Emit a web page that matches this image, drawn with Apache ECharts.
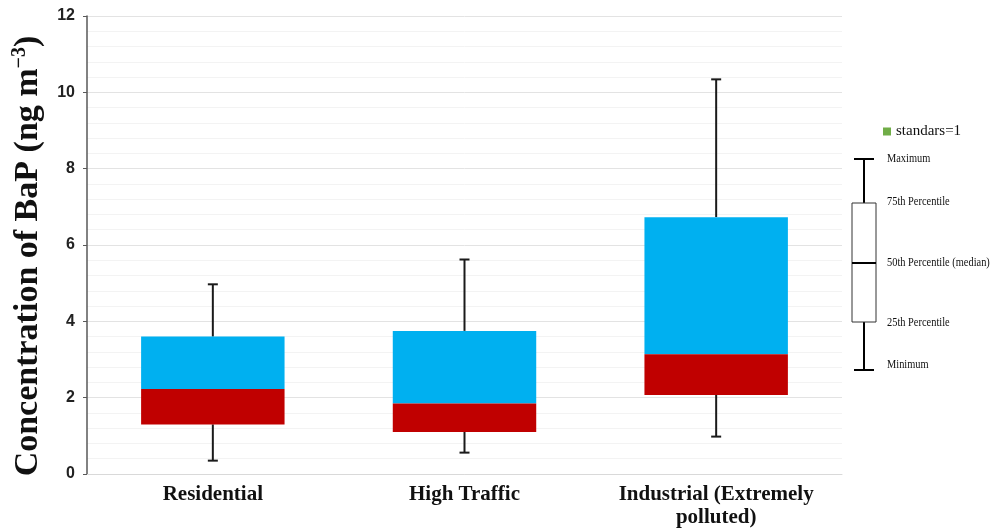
<!DOCTYPE html>
<html>
<head>
<meta charset="utf-8">
<title>Concentration of BaP</title>
<script src="https://cdn.jsdelivr.net/npm/echarts@6/dist/echarts.min.js"></script>
<style>
  html, body { margin: 0; padding: 0; background: #ffffff; }
  #chart { width: 1003px; height: 530px; }
</style>
</head>
<body>
<div id="chart"></div>
<script>
// Site categories
const categories = ['Residential', 'High Traffic', 'Industrial (Extremely\npolluted)'];
// Five-number summaries of BaP concentration (ng m-3) per site
const minimum = [0.35, 0.56, 0.98];
const q1      = [1.30, 1.10, 2.07];
const median  = [2.23, 1.85, 3.14];
const q3      = [3.60, 3.75, 6.73];
const maximum = [4.97, 5.62, 10.34];
// Y axis ticks
const yMin = 0, yMax = 12, yStep = 2;
// Legend entry and key labels
const legendName = 'standars=1';
const keyLabels = ['Maximum', '75th Percentile', '50th Percentile (median)', '25th Percentile', 'Minimum'];

const boxData = categories.map((c, i) => [i, minimum[i], q1[i], median[i], q3[i], maximum[i]]);

const LOWER = '#c00000';
const UPPER = '#00b0f0';
const WHISKER = '#1a1a1a';

function renderBox(params, api) {
  const idx = api.value(0);
  const vMin = api.value(1), vQ1 = api.value(2), vMed = api.value(3), vQ3 = api.value(4), vMax = api.value(5);
  const band = api.size([1, 0])[0];
  const w = band * 0.57;
  const cap = 10;
  const pMin = api.coord([idx, vMin]);
  const pQ1 = api.coord([idx, vQ1]);
  const pMed = api.coord([idx, vMed]);
  const pQ3 = api.coord([idx, vQ3]);
  const pMax = api.coord([idx, vMax]);
  const x = pMed[0];
  const line = (x1, y1, x2, y2) => ({
    type: 'line',
    shape: { x1, y1, x2, y2 },
    style: { stroke: WHISKER, lineWidth: 2 }
  });
  return {
    type: 'group',
    children: [
      line(x, pQ3[1], x, pMax[1]),
      line(x - cap / 2, pMax[1], x + cap / 2, pMax[1]),
      line(x, pQ1[1], x, pMin[1]),
      line(x - cap / 2, pMin[1], x + cap / 2, pMin[1]),
      {
        type: 'rect',
        shape: { x: x - w / 2, y: pQ3[1], width: w, height: pMed[1] - pQ3[1] },
        style: { fill: UPPER }
      },
      {
        type: 'rect',
        shape: { x: x - w / 2, y: pMed[1], width: w, height: pQ1[1] - pMed[1] },
        style: { fill: LOWER }
      }
    ]
  };
}

// Key: a schematic box with its labels, drawn at the right of the plot
const keyX = 864, keyTop = 159, keyQ3 = 203, keyMed = 263, keyQ1 = 322, keyBottom = 370;
const keyW = 24, keyCap = 20, keyTextX = 887;
const keyTextY = [159, 202, 263, 323, 365];
const keyGraphics = [
  { type: 'line', shape: { x1: keyX, y1: keyTop, x2: keyX, y2: keyQ3 }, style: { stroke: '#000', lineWidth: 2 } },
  { type: 'line', shape: { x1: keyX - keyCap / 2, y1: keyTop, x2: keyX + keyCap / 2, y2: keyTop }, style: { stroke: '#000', lineWidth: 2 } },
  { type: 'line', shape: { x1: keyX, y1: keyQ1, x2: keyX, y2: keyBottom }, style: { stroke: '#000', lineWidth: 2 } },
  { type: 'line', shape: { x1: keyX - keyCap / 2, y1: keyBottom, x2: keyX + keyCap / 2, y2: keyBottom }, style: { stroke: '#000', lineWidth: 2 } },
  { type: 'rect', shape: { x: keyX - keyW / 2, y: keyQ3, width: keyW, height: keyQ1 - keyQ3 }, style: { fill: '#fff', stroke: '#333', lineWidth: 1 } },
  { type: 'line', shape: { x1: keyX - keyW / 2, y1: keyMed, x2: keyX + keyW / 2, y2: keyMed }, style: { stroke: '#000', lineWidth: 2 } }
].concat(keyLabels.map((t, i) => ({
  type: 'text',
  x: keyTextX,
  y: keyTextY[i],
  scaleX: 0.8,
  style: {
    text: t,
    fill: '#111',
    font: '13px "Liberation Serif", serif',
    verticalAlign: 'middle',
    align: 'left'
  }
})));

const chart = echarts.init(document.getElementById('chart'), null, { renderer: 'canvas' });

chart.setOption({
  animation: false,
  backgroundColor: '#ffffff',
  grid: { left: 87, right: 161, top: 16, bottom: 56, containLabel: false, outerBoundsMode: 'none' },
  legend: {
    data: [{ name: legendName, icon: 'rect' }],
    left: 878,
    top: 119,
    itemWidth: 8,
    itemHeight: 8,
    itemGap: 4,
    textStyle: { fontFamily: '"Liberation Serif", serif', fontSize: 15, color: '#111' }
  },
  xAxis: {
    type: 'category',
    data: categories,
    axisLine: { show: true, lineStyle: { color: '#d9d9d9', width: 1 } },
    axisTick: { show: false },
    axisLabel: {
      interval: 0,
      hideOverlap: false,
      margin: 9,
      color: '#111',
      fontFamily: '"Liberation Serif", serif',
      fontWeight: 'bold',
      fontSize: 21,
      lineHeight: 23
    },
    splitLine: { show: false }
  },
  yAxis: {
    type: 'value',
    min: yMin,
    max: yMax,
    interval: yStep,
    name: '{a|Concentration of BaP (ng m}{s|−3}{a|)}',
    nameLocation: 'middle',
    nameGap: 41,
    nameTextStyle: {
      fontFamily: '"Liberation Serif", serif',
      fontWeight: 'bold',
      fontSize: 34,
      color: '#111',
      padding: [0, 22, 0, 0],
      rich: {
        a: { fontFamily: '"Liberation Serif", serif', fontWeight: 'bold', fontSize: 34, color: '#111' },
        s: { fontFamily: '"Liberation Serif", serif', fontWeight: 'bold', fontSize: 20, color: '#111', verticalAlign: 'top', padding: [0, 0, 16, 0] }
      }
    },
    axisLine: { show: true, lineStyle: { color: '#595959', width: 1.5 } },
    axisTick: { show: true, length: 4, lineStyle: { color: '#595959' } },
    axisLabel: {
      margin: 12,
      color: '#222',
      fontFamily: '"Liberation Sans", Arial, sans-serif',
      fontWeight: 'bold',
      fontSize: 16
    },
    splitLine: { show: true, lineStyle: { color: '#e3e3e3', width: 1 } },
    minorTick: { show: false, splitNumber: 5 },
    minorSplitLine: { show: true, lineStyle: { color: '#f3f3f3', width: 1 } }
  },
  series: [
    {
      name: 'BaP',
      type: 'custom',
      renderItem: renderBox,
      encode: { x: 0, y: [1, 2, 3, 4, 5] },
      data: boxData,
      z: 3
    },
    {
      name: legendName,
      type: 'bar',
      data: [],
      itemStyle: { color: '#70ad47' }
    }
  ],
  graphic: keyGraphics
});
</script>
</body>
</html>
